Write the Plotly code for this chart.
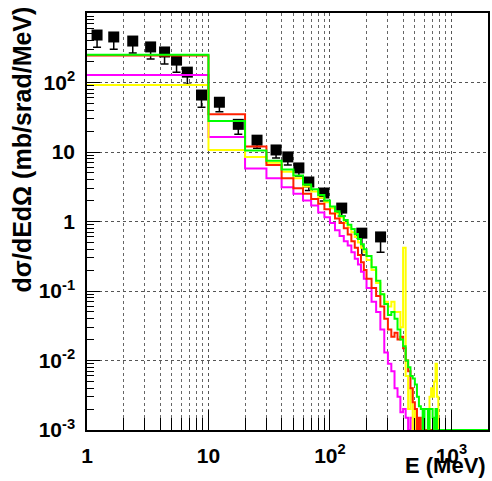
import plotly.graph_objects as go

# ---------------- data ----------------
# experimental points
data_E = [1.21, 1.66, 2.38, 3.34, 4.35, 5.46, 6.7, 8.76, 12.3, 17.6,
          25.1, 36, 45, 55.5, 67, 89, 125, 183, 261]
data_val = [482, 452, 395, 325, 275, 210, 141, 66, 52, 25,
            14.8, 10.7, 8.5, 5.9, 3.7, 2.57, 1.56, 0.68, 0.6]
data_err_lo = [160, 150, 130, 107, 90, 70, 47, 22, 14, 7,
               3.5, 2.5, 2.0, 1.4, 0.9, 0.6, 0.36, 0.35, 0.24]
data_err_hi = [50, 47, 40, 34, 28, 22, 15, 7, 5, 2.6,
               1.5, 1.1, 0.9, 0.6, 0.4, 0.27, 0.16, 0.07, 0.06]

# histogram bin edges (MeV)
bin_edges = [1] + list(range(10, 201, 10)) + list(range(220, 801, 20)) + [2000]

hist_green = [250, 28, 10.5, 7.5, 5.6, 4.6, 3.4, 2.9, 2.4, 2.0,
              1.65, 1.4, 1.2, 1.05, 0.9, 0.78, 0.66, 0.56, 0.47, 0.40,
              0.32, 0.22, 0.14, 0.09, 0.065, 0.045, 0.05, 0.04, 0.028, 0.02,
              0.016, 0.01, 0.008, 0.006, 0.0055, 0.0045, 0.003, 0.0022, 0.002, 0,
              0.002, 0.002, 0, 0.002, 0.002, 0.0015, 0, 0.002, 0, 0, 0]
hist_red = [245, 35, 12, 6.5, 4.2, 3.0, 2.5, 2.1, 1.8, 1.5,
            1.3, 1.1, 0.95, 0.8, 0.65, 0.52, 0.42, 0.33, 0.26, 0.2,
            0.15, 0.11, 0.085, 0.06, 0.04, 0.028, 0.022, 0.025, 0.02, 0.022,
            0.015, 0.01, 0.007, 0.004, 0.0025, 0.002, 0, 0.0015, 0, 0,
            0, 0, 0, 0, 0, 0, 0, 0, 0, 0, 0]
hist_magenta = [128, 16.4, 5.8, 4.2, 3.1, 2.5, 2.0, 1.7, 1.35, 1.15,
                0.95, 0.75, 0.62, 0.52, 0.45, 0.36, 0.29, 0.24, 0.19, 0.15,
                0.11, 0.07, 0.05, 0.028, 0.013, 0.009, 0.007, 0.004, 0.003, 0.0018,
                0.002, 0.0015, 0, 0.0015, 0, 0, 0, 0, 0, 0,
                0, 0, 0, 0, 0, 0, 0, 0, 0, 0, 0]
hist_yellow = [92, 10.7, 8.5, 7.0, 5.2, 4.2, 3.2, 2.7, 2.2, 1.9,
               1.55, 1.3, 1.15, 0.95, 0.82, 0.7, 0.6, 0.5, 0.42, 0.36,
               0.28, 0.2, 0.13, 0.09, 0.07, 0.06, 0.07, 0.05, 0.05, 0.03,
               0.42, 0.006, 0.002, 0.004, 0, 0.002, 0, 0, 0, 0,
               0, 0, 0, 0.003, 0.004, 0.003, 0.005, 0.009, 0.003, 0, 0]

x_tickvals = [1, 10, 100, 1000]
x_ticktext = ["1", "10", "10<sup>2</sup>", "10<sup>3</sup>"]
y_tickvals = [1e-3, 1e-2, 1e-1, 1, 10, 100, 1000]
y_ticktext = ["10<sup>-3</sup>", "10<sup>-2</sup>", "10<sup>-1</sup>", "1", "10",
              "10<sup>2</sup>", "10<sup>3</sup>"]

Y_MIN = 1e-3
FONT = "Liberation Sans"

fig = go.Figure()

fig.add_trace(go.Scatter(
    x=data_E, y=data_val, mode="markers",
    marker=dict(symbol="square", size=11, color="black"),
    error_y=dict(type="data", symmetric=False, array=data_err_hi,
                 arrayminus=data_err_lo, color="black", thickness=1.5, width=4),
    showlegend=False))


def step_trace(values, color):
    vals = [max(v, Y_MIN) for v in values]
    xs = list(bin_edges)
    ys = vals + [vals[-1]]
    return go.Scatter(x=xs, y=ys, mode="lines", line_shape="hv",
                      line=dict(color=color, width=2), showlegend=False)


fig.add_trace(step_trace(hist_magenta, "#ff00ff"))
fig.add_trace(step_trace(hist_yellow, "#ffff00"))
fig.add_trace(step_trace(hist_red, "#ff2000"))
fig.add_trace(step_trace(hist_green, "#00ff00"))

x_minor = [m * 10 ** k for k in range(0, 4) for m in range(2, 10) if m * 10 ** k < 2000]
y_minor = [m * 10.0 ** k for k in range(-3, 3) for m in range(2, 10)]

fig.update_xaxes(
    type="log", range=[0, 3.30103],
    tickvals=x_tickvals, ticktext=x_ticktext,
    ticks="inside", ticklen=20, tickwidth=1, tickcolor="black",
    showline=True, linecolor="black", linewidth=1.5, mirror=True,
    showgrid=True, gridcolor="#555", griddash="dot", gridwidth=1,
    minor=dict(tickmode="array", tickvals=x_minor, ticks="inside", ticklen=12,
               tickcolor="black", tickwidth=1, showgrid=True,
               gridcolor="#666", griddash="dot", gridwidth=1),
    tickfont=dict(family=FONT, size=21, color="black", weight="bold"),
    ticklabelstandoff=6, zeroline=False)

fig.update_yaxes(
    type="log", range=[-3, 3],
    tickvals=y_tickvals, ticktext=y_ticktext,
    ticks="inside", ticklen=13, tickwidth=1, tickcolor="black",
    showline=True, linecolor="black", linewidth=1.5, mirror=True,
    showgrid=True, gridcolor="#555", griddash="dot", gridwidth=1,
    minor=dict(tickmode="array", tickvals=y_minor, ticks="inside", ticklen=7,
               tickcolor="black", tickwidth=1, showgrid=False),
    tickfont=dict(family=FONT, size=21, color="black", weight="bold"),
    ticklabelstandoff=6, zeroline=False)

fig.add_annotation(
    text="dσ/dEdΩ (mb/srad/MeV)", textangle=-90,
    xref="paper", yref="paper", x=-0.163, y=0.672,
    xanchor="center", yanchor="middle", showarrow=False,
    font=dict(family=FONT, size=25, color="black", weight="bold"))

fig.add_annotation(
    text="E (MeV)", xref="paper", yref="paper", x=1.0, y=-0.084,
    xanchor="right", yanchor="middle", showarrow=False,
    font=dict(family=FONT, size=22, color="black", weight="bold"))

fig.update_layout(
    width=492, height=481,
    margin=dict(l=87, r=2, t=13, b=51),
    paper_bgcolor="white", plot_bgcolor="white",
    showlegend=False)

fig.write_html("out.html")
